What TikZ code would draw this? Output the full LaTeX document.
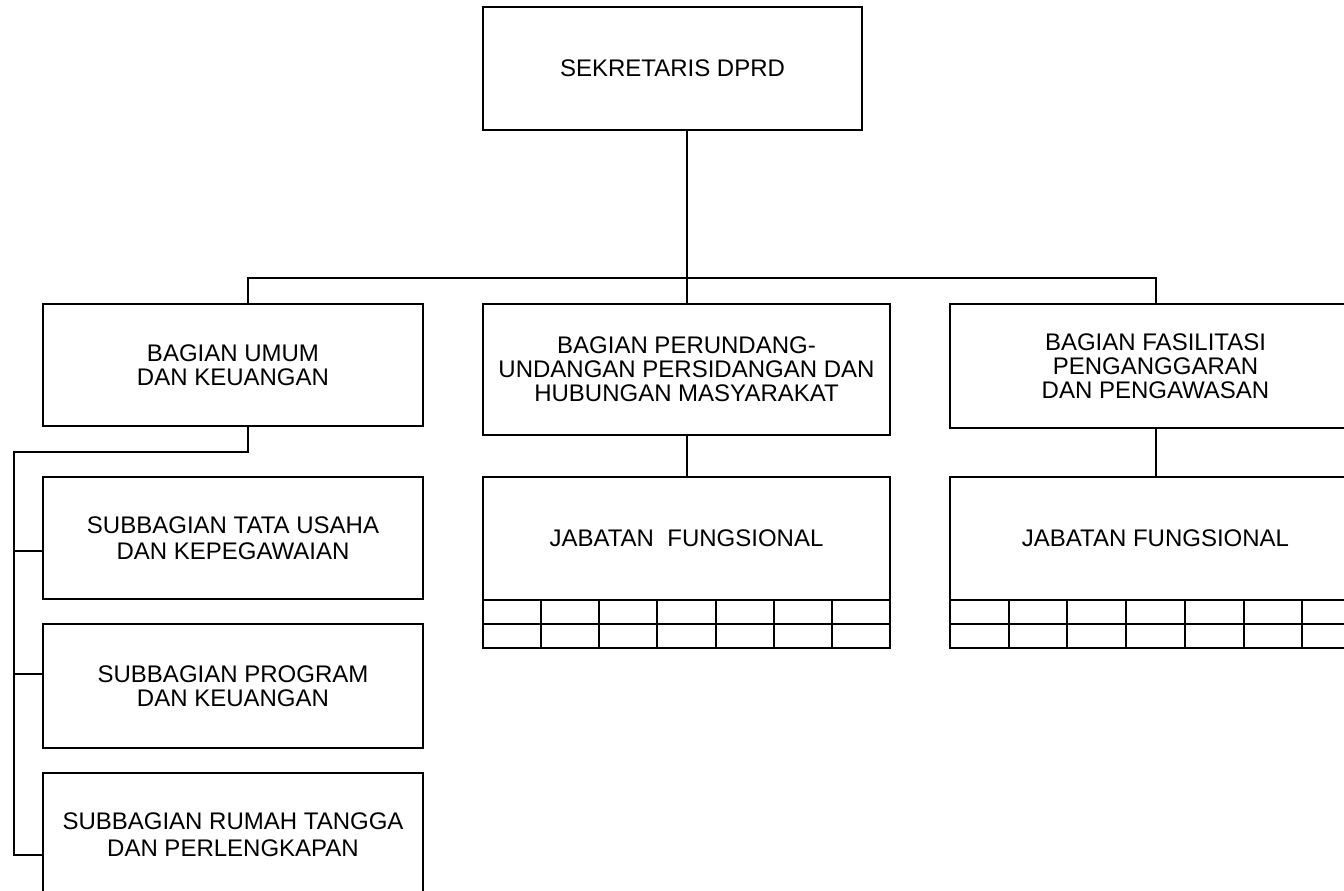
\documentclass[tikz,border=0pt]{standalone}
\usepackage{fontspec}
\setmainfont{Liberation Sans}
\usetikzlibrary{calc}
\begin{document}
\begin{tikzpicture}[x=1pt,y=-1pt,
  box/.style={draw=black,line width=2pt,inner sep=0pt,outer sep=0pt,align=center,
    font=\fontsize{24}{24}\selectfont},
  conn/.style={draw=black,line width=2pt}]
\useasboundingbox (0,0) rectangle (1344,891);
\fill[white] (0,0) rectangle (1344,891);
\clip (0,0) rectangle (1344,891);

% top
\node[box,minimum width=379pt,minimum height=123pt] (top) at (672.5,68.5) {SEKRETARIS DPRD};
% second level
\node[box,minimum width=380pt,minimum height=122pt] (umum) at (233,365) {BAGIAN UMUM\\DAN KEUANGAN};
\node[box,minimum width=407pt,minimum height=131pt] (mid) at (686.5,369.5) {BAGIAN PERUNDANG-\\UNDANGAN PERSIDANGAN DAN\\HUBUNGAN MASYARAKAT};
\node[box,minimum width=411pt,minimum height=124pt] (right) at (1155.5,366) {BAGIAN FASILITASI\\PENGANGGARAN\\DAN PENGAWASAN};
% subbagian
\node[box,minimum width=380pt,minimum height=122pt,font=\fontsize{24}{26}\selectfont] (sub1) at (233,538) {SUBBAGIAN TATA USAHA\\DAN KEPEGAWAIAN};
\node[box,minimum width=380pt,minimum height=124pt] (sub2) at (233,686) {SUBBAGIAN PROGRAM\\DAN KEUANGAN};
\node[box,minimum width=380pt,minimum height=123pt,font=\fontsize{24}{27.5}\selectfont] (sub3) at (233,834.5) {SUBBAGIAN RUMAH TANGGA\\DAN PERLENGKAPAN};
% jabatan fungsional
\node[box,minimum width=407pt,minimum height=123pt] (jm) at (686.5,538.5) {JABATAN\ \ FUNGSIONAL};
\node[box,minimum width=411pt,minimum height=123pt] (jr) at (1155.5,538.5) {JABATAN FUNGSIONAL};

% grids
\draw[conn] (jm.south west) rectangle ($(jm.south east)+(0,48)$);
\draw[conn] ($(jm.south west)+(0,24)$) -- ($(jm.south east)+(0,24)$);
\foreach \i in {1,...,6}{
  \draw[conn] ($(jm.south west)+(\i*58.14,0)$) -- ($(jm.south west)+(\i*58.14,48)$);}
\draw[conn] (jr.south west) rectangle ($(jr.south east)+(0,48)$);
\draw[conn] ($(jr.south west)+(0,24)$) -- ($(jr.south east)+(0,24)$);
\foreach \i in {1,...,6}{
  \draw[conn] ($(jr.south west)+(\i*58.7,0)$) -- ($(jr.south west)+(\i*58.7,48)$);}

% connectors
\coordinate (busL) at (248,278);
\coordinate (busR) at (1155.5,278);
\coordinate (sp) at (14,452);
\coordinate (b1) at (14,551);
\coordinate (b2) at (14,674);
\coordinate (b3) at (14,855);
\draw[conn] (top.south -| mid.north) -- (mid.north);
\draw[conn] (umum.north -| busL) -- (busL) -- (busR) -- (right.north);
\draw[conn] (umum.south -| busL) |- (sp) -- (b3) -- (b3 -| sub3.west);
\draw[conn] (b1) -- (b1 -| sub1.west);
\draw[conn] (b2) -- (b2 -| sub2.west);
\draw[conn] (mid.south) -- (jm.north);
\draw[conn] (right.south) -- (jr.north);
\end{tikzpicture}
\end{document}
